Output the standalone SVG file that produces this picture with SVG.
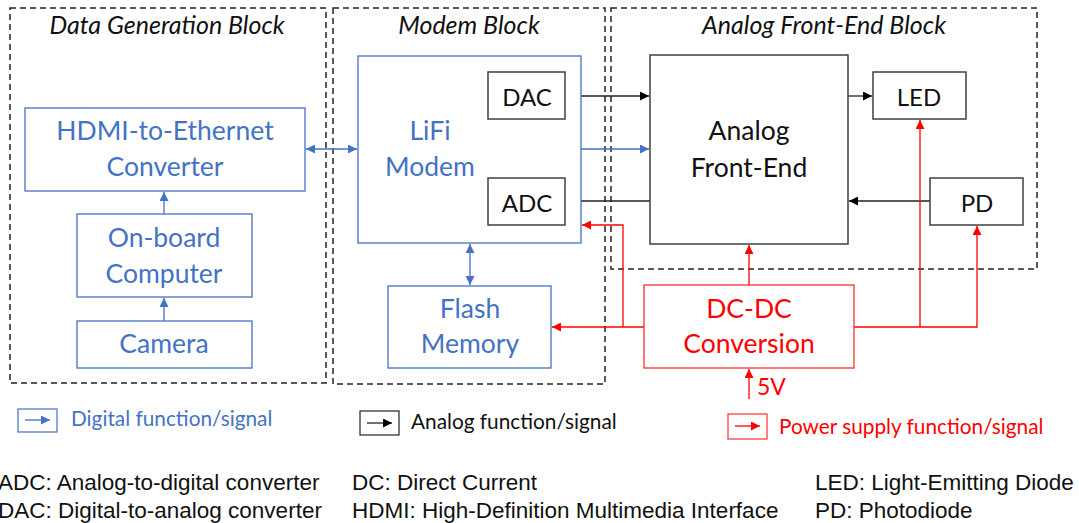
<svg xmlns="http://www.w3.org/2000/svg" width="1079" height="523" viewBox="0 0 1079 523">
<style>
.blk{fill:none;stroke:#222;stroke-width:1.5;stroke-dasharray:6,4}
.ttl{font-family:Lato,"Open Sans",sans-serif;font-style:italic;font-size:25px;fill:#111;text-anchor:middle}
.bn{fill:#fff;stroke:#4472C4;stroke-width:1.3}
.kn{fill:#fff;stroke:#404040;stroke-width:1.5}
.rn{fill:#fff;stroke:#FF3030;stroke-width:1.3}
.lb{font-family:Lato,"Open Sans",sans-serif;font-size:26.5px;text-anchor:middle}
.sm{font-size:24px}
.bt{fill:#4472C4}.kt{fill:#111}.rt{fill:#FF0000}
.cb{fill:none;stroke:#4472C4;stroke-width:1.3}
.ck{fill:none;stroke:#222;stroke-width:1.3}
.cr{fill:none;stroke:#FF0000;stroke-width:1.3}
.lg{font-family:Lato,"Open Sans",sans-serif;font-size:20.8px}
.v5{font-family:Lato,"Open Sans",sans-serif;font-size:23px}
.df{font-family:"Liberation Sans",Arial,sans-serif;font-size:22.5px;fill:#111}
</style>
<defs>
<marker id="ab" viewBox="0 0 10 10" refX="10" refY="5" markerWidth="9" markerHeight="9" markerUnits="userSpaceOnUse" orient="auto-start-reverse"><path d="M0,0 L10,5 L0,10 z" fill="#4472C4"/></marker>
<marker id="ak" viewBox="0 0 10 10" refX="10" refY="5" markerWidth="9" markerHeight="9" markerUnits="userSpaceOnUse" orient="auto-start-reverse"><path d="M0,0 L10,5 L0,10 z" fill="#000"/></marker>
<marker id="ar" viewBox="0 0 10 10" refX="10" refY="5" markerWidth="9" markerHeight="9" markerUnits="userSpaceOnUse" orient="auto-start-reverse"><path d="M0,0 L10,5 L0,10 z" fill="#FF0000"/></marker>
</defs>

<g id="block-data-generation">
<rect class="blk" x="10" y="8" width="316" height="375"/>
<text class="ttl" x="167" y="34">Data Generation Block</text>
</g>
<g id="block-modem">
<rect class="blk" x="333" y="8" width="272" height="376"/>
<text class="ttl" x="469" y="34">Modem Block</text>
</g>
<g id="block-afe">
<rect class="blk" x="611" y="8" width="426" height="261"/>
<text class="ttl" x="824" y="34">Analog Front-End Block</text>
</g>

<g id="connectors">
<line class="cb" x1="164" y1="214" x2="164" y2="192" marker-end="url(#ab)"/>
<line class="cb" x1="164" y1="321" x2="164" y2="298" marker-end="url(#ab)"/>
<line class="cb" x1="306" y1="149" x2="357" y2="149" marker-start="url(#ab)" marker-end="url(#ab)"/>
<line class="cb" x1="470" y1="244" x2="470" y2="285" marker-start="url(#ab)" marker-end="url(#ab)"/>
<line class="cb" x1="581" y1="149" x2="649" y2="149" marker-end="url(#ab)"/>
<line class="ck" x1="565" y1="96" x2="649" y2="96" marker-end="url(#ak)"/>
<line class="ck" x1="650" y1="201" x2="566" y2="201" marker-end="url(#ak)"/>
<line class="ck" x1="848" y1="96" x2="872" y2="96" marker-end="url(#ak)"/>
<line class="ck" x1="930" y1="201" x2="849" y2="201" marker-end="url(#ak)"/>
<line class="cr" x1="644" y1="327" x2="552" y2="327" marker-end="url(#ar)"/>
<polyline class="cr" points="623,327 623,225 582,225" marker-end="url(#ar)"/>
<line class="cr" x1="749" y1="285" x2="749" y2="245" marker-end="url(#ar)"/>
<polyline class="cr" points="854,327 977,327 977,226" marker-end="url(#ar)"/>
<line class="cr" x1="920" y1="327" x2="920" y2="120" marker-end="url(#ar)"/>
<line class="cr" x1="749" y1="399" x2="749" y2="369" marker-end="url(#ar)"/>
</g>

<g id="hdmi-converter">
<rect class="bn" x="25" y="108" width="280" height="83"/>
<text class="lb bt" x="165" y="140">HDMI-to-Ethernet</text>
<text class="lb bt" x="165" y="176">Converter</text>
</g>
<g id="onboard-computer">
<rect class="bn" x="77" y="214" width="175" height="83"/>
<text class="lb bt" x="164" y="247">On-board</text>
<text class="lb bt" x="164" y="283">Computer</text>
</g>
<g id="camera">
<rect class="bn" x="77" y="321" width="175" height="47"/>
<text class="lb bt" x="164" y="353">Camera</text>
</g>
<g id="lifi-modem">
<rect class="bn" x="358" y="56" width="223" height="187"/>
<text class="lb bt" x="430" y="140">LiFi</text>
<text class="lb bt" x="430" y="176">Modem</text>
</g>
<g id="dac">
<rect class="kn" x="488" y="72" width="77" height="47"/>
<text class="lb sm kt" x="527" y="106">DAC</text>
</g>
<g id="adc">
<rect class="kn" x="488" y="178" width="77" height="47"/>
<text class="lb sm kt" x="527" y="212">ADC</text>
</g>
<g id="flash-memory">
<rect class="bn" x="388" y="286" width="163" height="82"/>
<text class="lb bt" x="470" y="318">Flash</text>
<text class="lb bt" x="470" y="353">Memory</text>
</g>
<g id="analog-front-end">
<rect class="kn" x="650" y="55" width="198" height="189"/>
<text class="lb kt" x="749" y="140">Analog</text>
<text class="lb kt" x="749" y="177">Front-End</text>
</g>
<g id="led">
<rect class="kn" x="873" y="72" width="93" height="47"/>
<text class="lb sm kt" x="919" y="106">LED</text>
</g>
<g id="pd">
<rect class="kn" x="930" y="178" width="93" height="47"/>
<text class="lb sm kt" x="977" y="212">PD</text>
</g>
<g id="dcdc">
<rect class="rn" x="644" y="285" width="210" height="83"/>
<text class="lb rt" x="749" y="318">DC-DC</text>
<text class="lb rt" x="749" y="353">Conversion</text>
</g>
<g id="v5">
<text class="v5 rt" x="757" y="395">5V</text>
</g>

<g id="legend">
<rect x="18" y="409" width="39" height="23" fill="none" stroke="#4472C4" stroke-width="1.2"/>
<line class="cb" x1="25" y1="420" x2="50" y2="420" marker-end="url(#ab)"/>
<text class="lg bt" x="71" y="426">Digital function/signal</text>
<rect x="360" y="411" width="39" height="24" fill="none" stroke="#222" stroke-width="1.2"/>
<line class="ck" x1="367" y1="423" x2="392" y2="423" marker-end="url(#ak)"/>
<text class="lg kt" x="411" y="429">Analog function/signal</text>
<rect x="728" y="414" width="39" height="25" fill="none" stroke="#FF3030" stroke-width="1.2"/>
<line class="cr" x1="735" y1="426" x2="760" y2="426" marker-end="url(#ar)"/>
<text class="lg rt" x="779" y="434">Power supply function/signal</text>
</g>

<g id="definitions">
<text class="df" x="-2" y="490">ADC: Analog-to-digital converter</text>
<text class="df" x="-2" y="518">DAC: Digital-to-analog converter</text>
<text class="df" x="352" y="490">DC: Direct Current</text>
<text class="df" x="352" y="518">HDMI: High-Definition Multimedia Interface</text>
<text class="df" x="815" y="490">LED: Light-Emitting Diode</text>
<text class="df" x="815" y="518">PD: Photodiode</text>
</g>
</svg>
